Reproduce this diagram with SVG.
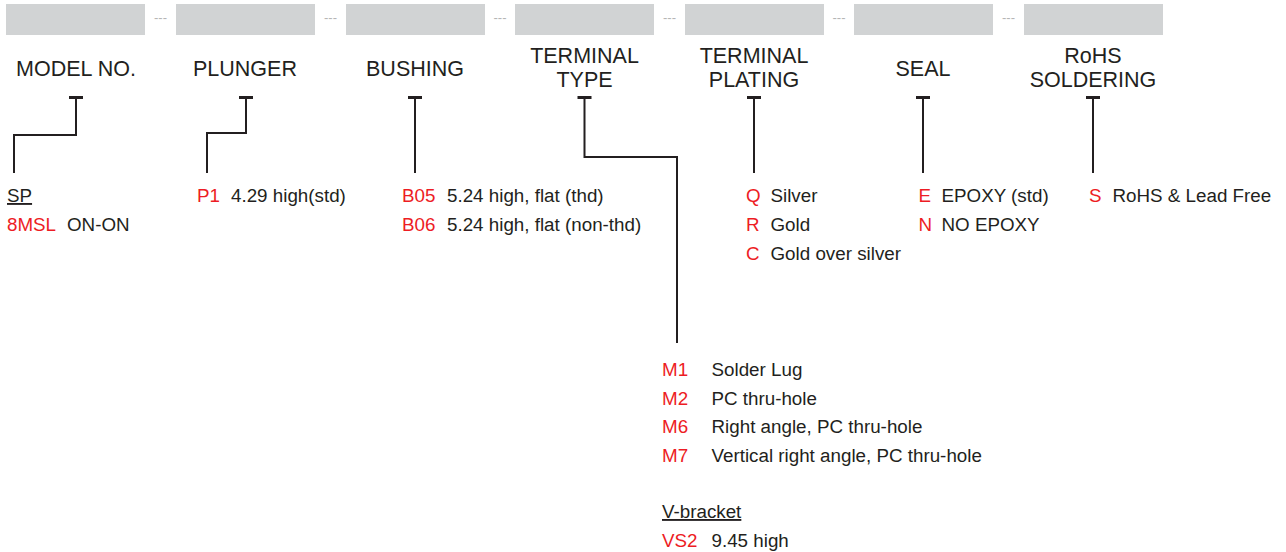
<svg xmlns="http://www.w3.org/2000/svg" width="1286" height="552" viewBox="0 0 1286 552">
<style>
.box{fill:#d1d3d4}
.dash{font-family:"Liberation Sans",Arial,sans-serif;font-size:13px;fill:#b5b5b5;text-anchor:middle}
.hd{font-family:"Liberation Sans",Arial,sans-serif;font-size:21.5px;fill:#231f20;text-anchor:middle}
.t{font-family:"Liberation Sans",Arial,sans-serif;font-size:18.8px;fill:#231f20}
.r{fill:#ed1c24}
.u{text-decoration:underline}
.ln{fill:none;stroke:#231f20;stroke-width:2}
.bar{fill:#231f20}
</style>
<rect width="1286" height="552" fill="#ffffff"/>
<g id="header-boxes">
<rect class="box" x="6" y="4" width="139" height="31"/>
<rect class="box" x="176" y="4" width="139" height="31"/>
<rect class="box" x="346" y="4" width="139" height="31"/>
<rect class="box" x="515" y="4" width="139" height="31"/>
<rect class="box" x="685" y="4" width="139" height="31"/>
<rect class="box" x="854" y="4" width="139" height="31"/>
<rect class="box" x="1024" y="4" width="139" height="31"/>
<text class="dash" x="160.5" y="22">---</text>
<text class="dash" x="330.5" y="22">---</text>
<text class="dash" x="500" y="22">---</text>
<text class="dash" x="669.5" y="22">---</text>
<text class="dash" x="839" y="22">---</text>
<text class="dash" x="1008.5" y="22">---</text>
</g>
<g id="model">
<text class="hd" x="76" y="75.5">MODEL NO.</text>
<text class="t u" x="7" y="202">SP</text>
<text class="t" x="7" y="231"><tspan class="r">8MSL</tspan><tspan x="67">ON-ON</tspan></text>
</g>
<g id="plunger">
<text class="hd" x="245" y="75.5">PLUNGER</text>
<text class="t" x="197" y="202"><tspan class="r">P1</tspan><tspan x="231">4.29 high(std)</tspan></text>
</g>
<g id="bushing">
<text class="hd" x="415" y="75.5">BUSHING</text>
<text class="t" x="402" y="202"><tspan class="r">B05</tspan><tspan x="447">5.24 high, flat (thd)</tspan></text>
<text class="t" x="402" y="231"><tspan class="r">B06</tspan><tspan x="447">5.24 high, flat (non-thd)</tspan></text>
</g>
<g id="terminal-type">
<text class="hd" x="584.5" y="63">TERMINAL</text>
<text class="hd" x="584.5" y="87">TYPE</text>
<text class="t" x="662" y="376"><tspan class="r">M1</tspan><tspan x="711.5">Solder Lug</tspan></text>
<text class="t" x="662" y="404.5"><tspan class="r">M2</tspan><tspan x="711.5">PC thru-hole</tspan></text>
<text class="t" x="662" y="433"><tspan class="r">M6</tspan><tspan x="711.5">Right angle, PC thru-hole</tspan></text>
<text class="t" x="662" y="461.5"><tspan class="r">M7</tspan><tspan x="711.5">Vertical right angle, PC thru-hole</tspan></text>
<text class="t u" x="662" y="518">V-bracket</text>
<text class="t" x="662" y="547"><tspan class="r">VS2</tspan><tspan x="711.5">9.45 high</tspan></text>
</g>
<g id="terminal-plating">
<text class="hd" x="754" y="63">TERMINAL</text>
<text class="hd" x="754" y="87">PLATING</text>
<text class="t" x="746" y="202"><tspan class="r">Q</tspan><tspan x="770.5">Silver</tspan></text>
<text class="t" x="746" y="231"><tspan class="r">R</tspan><tspan x="770.5">Gold</tspan></text>
<text class="t" x="746" y="259.5"><tspan class="r">C</tspan><tspan x="770.5">Gold over silver</tspan></text>
</g>
<g id="seal">
<text class="hd" x="923" y="75.5">SEAL</text>
<text class="t" x="918.5" y="202"><tspan class="r">E</tspan><tspan x="941.5">EPOXY (std)</tspan></text>
<text class="t" x="918.5" y="231"><tspan class="r">N</tspan><tspan x="941.5">NO EPOXY</tspan></text>
</g>
<g id="rohs">
<text class="hd" x="1093" y="63">RoHS</text>
<text class="hd" x="1093" y="87">SOLDERING</text>
<text class="t" x="1089" y="202"><tspan class="r">S</tspan><tspan x="1112.5">RoHS &amp; Lead Free</tspan></text>
</g>
<g id="connectors">
<rect class="bar" x="69" y="96" width="14" height="3"/>
<rect class="bar" x="239" y="96" width="14" height="3"/>
<rect class="bar" x="408" y="96" width="14" height="3"/>
<rect class="bar" x="577.5" y="96" width="14" height="3"/>
<rect class="bar" x="747" y="96" width="14" height="3"/>
<rect class="bar" x="916" y="96" width="14" height="3"/>
<rect class="bar" x="1086" y="96" width="14" height="3"/>
<polyline class="ln" points="76,97 76,135 14,135 14,173"/>
<polyline class="ln" points="246,97 246,133 207,133 207,173"/>
<polyline class="ln" points="415,97 415,173"/>
<polyline class="ln" points="584.5,97 584.5,157 677,157 677,343"/>
<polyline class="ln" points="754,97 754,173"/>
<polyline class="ln" points="923,97 923,173"/>
<polyline class="ln" points="1093,97 1093,173"/>
</g>
</svg>
